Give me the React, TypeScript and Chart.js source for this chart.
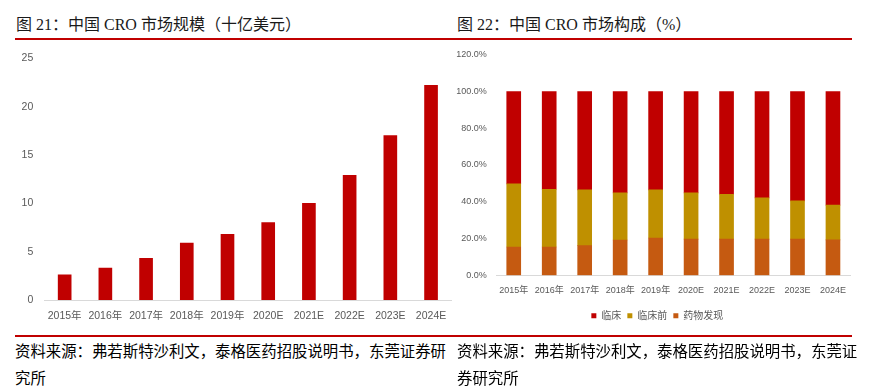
import React, { useEffect, useRef } from "react";
import { Chart, registerables } from "chart.js";

Chart.register(...registerables);

// ---------- data ----------
const categories = ["2015年", "2016年", "2017年", "2018年", "2019年", "2020E", "2021E", "2022E", "2023E", "2024E"];
const marketSize = [2.6, 3.3, 4.3, 5.9, 6.8, 8.0, 10.0, 12.9, 17.0, 22.2];
const discoveryShare = [15.4, 15.4, 16.1, 19.2, 20.3, 19.7, 19.7, 19.7, 19.7, 19.3];
const preclinicalShare = [34.3, 31.4, 30.4, 25.6, 26.2, 25.1, 24.4, 22.4, 20.8, 18.9];
const clinicalShare = [50.3, 53.2, 53.5, 55.2, 53.5, 55.2, 55.9, 57.9, 59.5, 61.8];
const seriesNames = ["药物发现", "临床前", "临床"];
const sizeAxis = { min: 0, max: 25, step: 5 };
const shareAxis = { min: 0, max: 120, step: 20 };

const title21 = "图 21：中国 CRO 市场规模（十亿美元）";
const title22 = "图 22：中国 CRO 市场构成（%）";
const sourceLeft = ["资料来源：弗若斯特沙利文，泰格医药招股说明书，东莞证券研", "究所"];
const sourceRight = ["资料来源：弗若斯特沙利文，泰格医药招股说明书，东莞证", "券研究所"];

const RED = "#c00000";
const GOLD = "#bf9000";
const ORANGE = "#c55a11";
const TICK = "#595959";
const TICK_FONT = '"Liberation Sans", "Noto Sans CJK SC", sans-serif';
const NARROW_FONT = '"Liberation Sans Narrow", "Liberation Sans", "Noto Sans CJK SC", sans-serif';
const TITLE_FONT = '"Liberation Serif", "Noto Sans CJK SC", serif';
const CJK_FONT = '"Noto Sans CJK SC", sans-serif';

// shifts the legend horizontally after layout (legend box otherwise centred on the full canvas)
const legendShift = {
  id: "legendShift",
  afterLayout(chart: any, _args: any, opts: any) {
    const lg = chart.legend;
    if (lg && opts && opts.dx) {
      lg.left += opts.dx;
      lg.right += opts.dx;
    }
  },
};

function SizeChart() {
  const ref = useRef<HTMLCanvasElement | null>(null);
  useEffect(() => {
    if (!ref.current) return;
    const chart = new Chart(ref.current, {
      type: "bar",
      data: {
        labels: categories,
        datasets: [
          {
            label: "市场规模",
            data: marketSize,
            backgroundColor: RED,
            borderWidth: 0,
            barThickness: 13,
          },
        ],
      },
      options: {
        animation: false,
        responsive: false,
        devicePixelRatio: 1,
        layout: { padding: { left: 0, right: 8.6, top: 18.3, bottom: 0 } },
        plugins: { legend: { display: false }, tooltip: { enabled: false } },
        scales: {
          x: {
            grid: { display: false, drawTicks: false },
            border: { display: true, color: "#d9d9d9", width: 1 },
            ticks: {
              color: TICK,
              font: { size: 10.5, family: TICK_FONT },
              padding: 10,
              maxRotation: 0,
              autoSkip: false,
            },
            afterFit: (s: any) => {
              s.height = 30;
            },
          },
          y: {
            min: sizeAxis.min,
            max: sizeAxis.max,
            grid: { display: false, drawTicks: false },
            border: { display: false },
            ticks: {
              stepSize: sizeAxis.step,
              color: TICK,
              font: { size: 10.5, family: TICK_FONT },
              padding: 11,
            },
            afterFit: (s: any) => {
              s.width = 44.3;
            },
          },
        },
      },
    });
    return () => chart.destroy();
  }, []);
  return <canvas ref={ref} width={460} height={290} style={{ position: "absolute", left: 0, top: 40 }} />;
}

function ShareChart() {
  const ref = useRef<HTMLCanvasElement | null>(null);
  useEffect(() => {
    if (!ref.current) return;
    const chart = new Chart(ref.current, {
      type: "bar",
      plugins: [legendShift],
      data: {
        labels: categories,
        datasets: [
          { label: seriesNames[0], data: discoveryShare, backgroundColor: ORANGE, borderWidth: 0, barThickness: 14 },
          { label: seriesNames[1], data: preclinicalShare, backgroundColor: GOLD, borderWidth: 0, barThickness: 14 },
          { label: seriesNames[2], data: clinicalShare, backgroundColor: RED, borderWidth: 0, barThickness: 14 },
        ],
      },
      options: {
        animation: false,
        responsive: false,
        devicePixelRatio: 1,
        layout: { padding: { left: 1, right: 42.3, top: 14, bottom: 9.3 } },
        plugins: {
          tooltip: { enabled: false },
          legendShift: { dx: 4 },
          legend: {
            display: true,
            position: "bottom",
            reverse: true,
            labels: {
              boxWidth: 5,
              boxHeight: 5,
              padding: 6,
              color: TICK,
              font: { size: 10, family: CJK_FONT },
            },
          },
        } as any,
        scales: {
          x: {
            stacked: true,
            grid: { display: false, drawTicks: false },
            border: { display: true, color: "#d9d9d9", width: 1 },
            ticks: {
              color: TICK,
              font: { size: 9, family: TICK_FONT },
              padding: 9.7,
              maxRotation: 0,
              autoSkip: false,
            },
            afterFit: (s: any) => {
              s.height = 29.4;
            },
          },
          y: {
            stacked: true,
            min: shareAxis.min,
            max: shareAxis.max,
            grid: { display: false, drawTicks: false },
            border: { display: false },
            ticks: {
              stepSize: shareAxis.step,
              color: TICK,
              font: { size: 9, family: NARROW_FONT },
              padding: 9.3,
              callback: (v: any) => Number(v).toFixed(1) + "%",
            },
            afterFit: (s: any) => {
              s.width = 40;
            },
          },
        },
      },
    });
    return () => chart.destroy();
  }, []);
  return <canvas ref={ref} width={438} height={300} style={{ position: "absolute", left: 455, top: 40 }} />;
}

const titleStyle: React.CSSProperties = {
  position: "absolute",
  top: 16,
  fontFamily: TITLE_FONT,
  fontSize: 16,
  lineHeight: "18px",
  color: "#1a1a1a",
  whiteSpace: "nowrap",
};

const sourceStyle: React.CSSProperties = {
  position: "absolute",
  top: 337,
  fontFamily: CJK_FONT,
  fontSize: 15.4,
  lineHeight: "26.7px",
  color: "#000",
  whiteSpace: "nowrap",
};

export default function App() {
  return (
    <div
      style={{
        position: "fixed",
        left: 0,
        top: 0,
        width: 893,
        height: 391,
        background: "#fff",
        overflow: "hidden",
      }}
    >
      <div style={{ ...titleStyle, left: 16 }}>{title21}</div>
      <div style={{ ...titleStyle, left: 457 }}>{title22}</div>
      <div style={{ position: "absolute", left: 15, top: 37.5, width: 837, height: 2, background: RED }} />
      <SizeChart />
      <ShareChart />
      <div style={{ position: "absolute", left: 15, top: 335, width: 837, height: 2, background: RED }} />
      <div style={{ ...sourceStyle, left: 15 }}>
        {sourceLeft[0]}
        <br />
        {sourceLeft[1]}
      </div>
      <div style={{ ...sourceStyle, left: 457 }}>
        {sourceRight[0]}
        <br />
        {sourceRight[1]}
      </div>
    </div>
  );
}
